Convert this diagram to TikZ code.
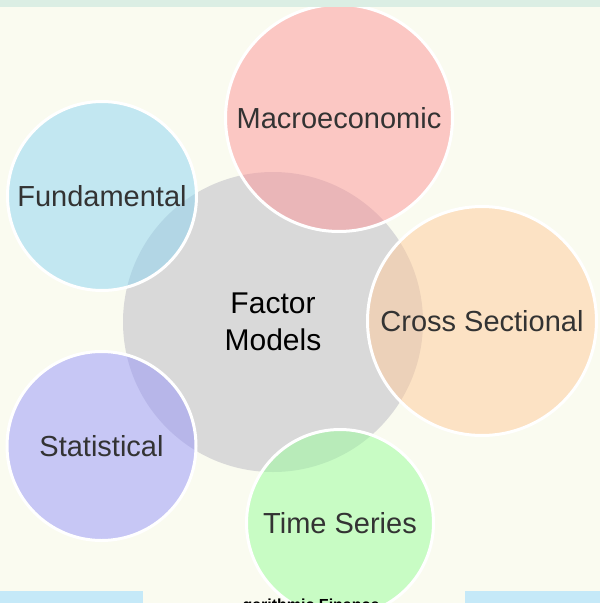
\documentclass[tikz,border=0pt]{standalone}
\usepackage{fontspec}
\setmainfont{Liberation Sans}
\definecolor{pagebg}{RGB}{250,251,240}
\definecolor{topband}{RGB}{219,238,228}
\definecolor{footband}{RGB}{197,233,248}
\definecolor{hubgray}{RGB}{217,217,217}
\definecolor{textgray}{RGB}{51,51,51}
\definecolor{macrofill}{RGB}{252,149,152}
\definecolor{fundfill}{RGB}{140,213,242}
\definecolor{crossfill}{RGB}{255,203,154}
\definecolor{statfill}{RGB}{150,149,250}
\definecolor{timefill}{RGB}{152,253,154}
\begin{document}
\begin{tikzpicture}[x=1pt,y=-1pt,
  hub/.style={circle, inner sep=0pt, fill=hubgray, minimum size=300pt,
    font=\fontsize{30}{37}\selectfont, align=center, text=black},
  petal/.style={circle, inner sep=0pt, draw=white, line width=3pt,
    fill opacity=0.5, draw opacity=1, text opacity=1,
    font=\fontsize{29}{35}\selectfont, text=textgray},
  band/.style={fill=#1, draw=none}]
\useasboundingbox (0,0) rectangle (600,603);
\clip (0,0) rectangle (600,603);
\fill[pagebg] (0,0) rectangle (600,603);

% central hub
\node[hub] (hub) at (273,322) {Factor\\Models};

% surrounding factor families
\node[petal, fill=macrofill, minimum size=227pt] (macro) at (339,118) {Macroeconomic};
\node[petal, fill=fundfill,  minimum size=189pt] (fund)  at (102,196) {Fundamental};
\node[petal, fill=crossfill, minimum size=229pt] (cross) at (482,321) {Cross Sectional};
\node[petal, fill=statfill,  minimum size=189pt] (stat)  at (101.5,446) {Statistical};
\node[petal, fill=timefill,  minimum size=187pt] (time)  at (340,523) {Time Series};

% page bands
\path[band=topband] (0,0) rectangle (600,7);
\path[band=footband] (0,591) rectangle (143,603);
\path[band=footband] (465,591) rectangle (600,603);

\node[anchor=base, inner sep=0pt, font=\bfseries\fontsize{16}{19}\selectfont, text=black]
  (credit) at (311,610.5) {garithmic Finance};
\end{tikzpicture}
\end{document}
